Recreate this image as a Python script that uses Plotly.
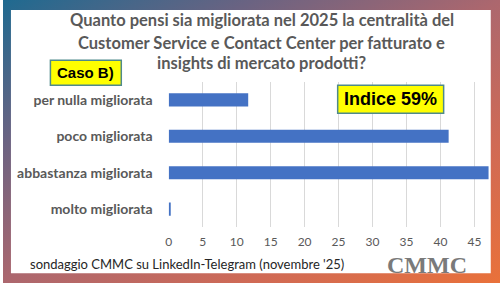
import base64
import plotly.graph_objects as go

# ---- data ----
categories = ["per nulla migliorata", "poco migliorata", "abbastanza migliorata", "molto migliorata"]
values = [11.7, 41.2, 47.1, 0.3]
x_ticks = [0, 5, 10, 15, 20, 25, 30, 35, 40, 45]
title_lines = [
    "Quanto pensi sia migliorata nel 2025 la centralità del",
    "Customer Service e Contact Center per fatturato e",
    "insights di mercato prodotti?",
]
case_label = "Caso B)"
index_label = "Indice 59%"
footer = "sondaggio CMMC su LinkedIn-Telegram (novembre '25)"
logo = "CMMC"

W, H = 500, 283


def px_x(p):
    return p / W


def px_y(p):
    return 1 - p / H


# background gradient as svg image
svg = f"""<svg xmlns='http://www.w3.org/2000/svg' width='{W}' height='{H}' viewBox='0 0 {W} {H}' preserveAspectRatio='none'>
<defs><linearGradient id='g' x1='0' y1='0' x2='1' y2='1'>
<stop offset='0' stop-color='#1f6a90'/>
<stop offset='0.25' stop-color='#6a6382'/>
<stop offset='0.5' stop-color='#ac676e'/>
<stop offset='0.75' stop-color='#d06a55'/>
<stop offset='1' stop-color='#e9713a'/>
</linearGradient></defs>
<rect width='{W}' height='{H}' fill='url(#g)'/></svg>"""
svg_uri = "data:image/svg+xml;base64," + base64.b64encode(svg.encode()).decode()

fig = go.Figure()
fig.add_trace(go.Bar(
    x=values, y=categories, orientation="h",
    marker=dict(color="#4472C4", line=dict(width=0)),
    width=0.36, hoverinfo="skip",
))

plot_l, plot_r, plot_t, plot_b = 166.7, 488.7, 81.7, 227.3
xmax = 45 * (plot_r - plot_l) / (474.3 - plot_l)

fig.update_layout(
    width=W, height=H,
    margin=dict(l=0, r=0, t=0, b=0),
    paper_bgcolor="white", plot_bgcolor="white",
    showlegend=False,
    xaxis=dict(domain=[px_x(plot_l), px_x(plot_r)], range=[0, xmax],
               tickvals=x_ticks, showgrid=True, gridcolor="#d9d9d9", gridwidth=1,
               zeroline=False, showline=False, ticks="", ticklabelstandoff=6,
               tickfont=dict(family="Lato", size=12, color="#595959")),
    yaxis=dict(domain=[px_y(plot_b), px_y(plot_t)], autorange="reversed",
               showgrid=False, zeroline=False, showline=False, ticks="",
               ticklabelstandoff=15,
               tickfont=dict(family="Lato", size=14, color="#595959", weight="bold")),
    images=[dict(source=svg_uri, xref="paper", yref="paper", x=0, y=1,
                 sizex=1, sizey=1, sizing="stretch", layer="below",
                 xanchor="left", yanchor="top")],
    shapes=[
        dict(type="rect", xref="paper", yref="paper", layer="below",
             x0=px_x(8), x1=px_x(490.7), y0=px_y(273.3), y1=px_y(10),
             fillcolor="white", line=dict(width=0)),
        dict(type="rect", xref="paper", yref="paper", layer="above",
             x0=px_x(47.7), x1=px_x(119), y0=px_y(85.3), y1=px_y(60.3),
             fillcolor="#ffff00", line=dict(color="#4f8a8b", width=1.5)),
        dict(type="rect", xref="paper", yref="paper", layer="above",
             x0=px_x(336.7), x1=px_x(443.3), y0=px_y(113.3), y1=px_y(85.3),
             fillcolor="#ffff00", line=dict(color="#4f8a8b", width=1.5)),
    ],
)

title_y = [20, 42.7, 63.3]
for line, yy in zip(title_lines, title_y):
    fig.add_annotation(text=line, xref="paper", yref="paper", x=px_x(260.5), y=px_y(yy),
                       xanchor="center", yanchor="middle", showarrow=False,
                       font=dict(family="Lato", size=16.5, color="#595959", weight="bold"))

fig.add_annotation(text=case_label, xref="paper", yref="paper", x=px_x(83.3), y=px_y(72.8),
                   xanchor="center", yanchor="middle", showarrow=False,
                   font=dict(family="Liberation Sans", size=15, color="black", weight="bold"))
fig.add_annotation(text=index_label, xref="paper", yref="paper", x=px_x(390), y=px_y(99.3),
                   xanchor="center", yanchor="middle", showarrow=False,
                   font=dict(family="Liberation Sans", size=18, color="black", weight="bold"))
fig.add_annotation(text=footer, xref="paper", yref="paper", x=px_x(25), y=px_y(264),
                   xanchor="left", yanchor="middle", showarrow=False,
                   font=dict(family="Lato", size=13, color="#262626"))
fig.add_annotation(text=logo, xref="paper", yref="paper", x=px_x(426.5), y=px_y(265),
                   xanchor="center", yanchor="middle", showarrow=False,
                   font=dict(family="Liberation Serif", size=24, color="#7a7a7a", weight="bold"))

fig.write_html("out.html")
